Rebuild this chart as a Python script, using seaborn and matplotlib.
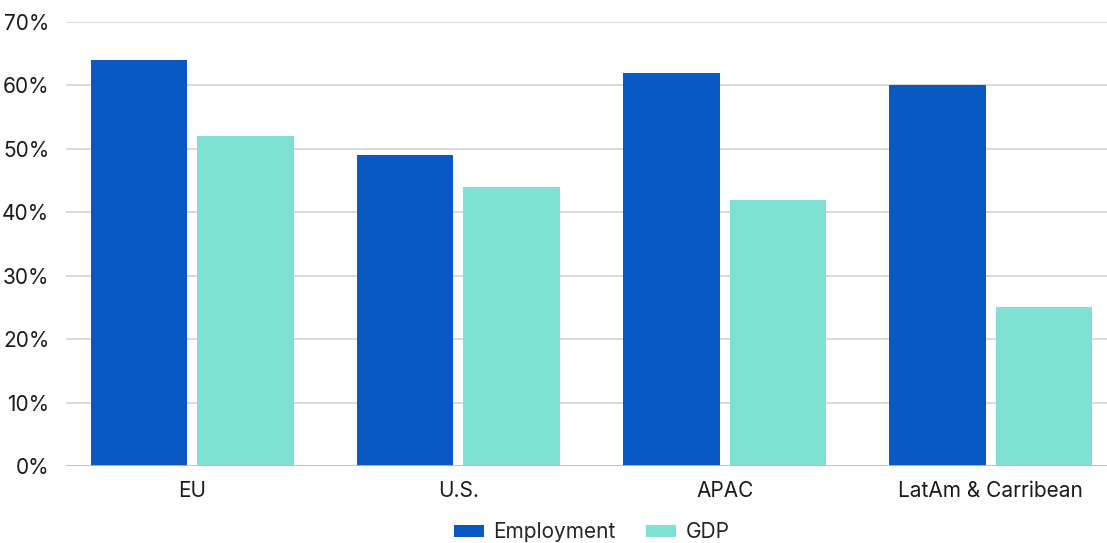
import pandas as pd
import matplotlib.pyplot as plt
import seaborn as sns

# values (percent)
regions = ["EU", "U.S.", "APAC", "LatAm & Carribean"]
employment = [64, 49, 62, 60]
gdp = [52, 44, 42, 25]
series = ["Employment", "GDP"]
colors = ["#0A58C4", "#7FE1D4"]
y_ticks = [0, 10, 20, 30, 40, 50, 60, 70]

df = pd.DataFrame({
    "region": regions * 2,
    "series": [series[0]] * 4 + [series[1]] * 4,
    "value": employment + gdp,
})

sns.set_theme(style="white")
plt.rcParams["font.family"] = ["Inter", "DejaVu Sans"]

fig = plt.figure(figsize=(11.07, 5.43), dpi=100)
ax = fig.add_axes([66 / 1107, 77 / 543, 1 - 66 / 1107, (466 - 22) / 543])

sns.barplot(data=df, x="region", y="value", hue="series", palette=colors,
            width=0.8, gap=0.094, saturation=1, linewidth=0, ax=ax, zorder=3)

ax.set_ylim(0, 70)
ax.set_xlim(-0.474, 3.436)
ax.set_yticks(y_ticks)
ax.set_yticklabels([f"{t}%" for t in y_ticks])
ax.grid(axis="y", color="#d4d4d4", linewidth=1.2, zorder=0)
ax.axhline(0, color="#bfbfbf", linewidth=1.2, zorder=4)
for s in ax.spines.values():
    s.set_visible(False)
ax.set_xlabel("")
ax.set_ylabel("")
ax.tick_params(axis="both", length=0, labelsize=15, colors="#1a1a1a")
ax.tick_params(axis="y", pad=12)
ax.tick_params(axis="x", pad=11)

ax.get_legend().remove()
handles, labels = ax.get_legend_handles_labels()
fig.legend(handles, labels, loc="center", bbox_to_anchor=(591.5 / 1107, 11 / 543),
           ncol=2, frameon=False, fontsize=15, handlelength=1.45, handleheight=0.5,
           columnspacing=1.45, handletextpad=0.45)

fig.savefig("out.png", dpi=100)
